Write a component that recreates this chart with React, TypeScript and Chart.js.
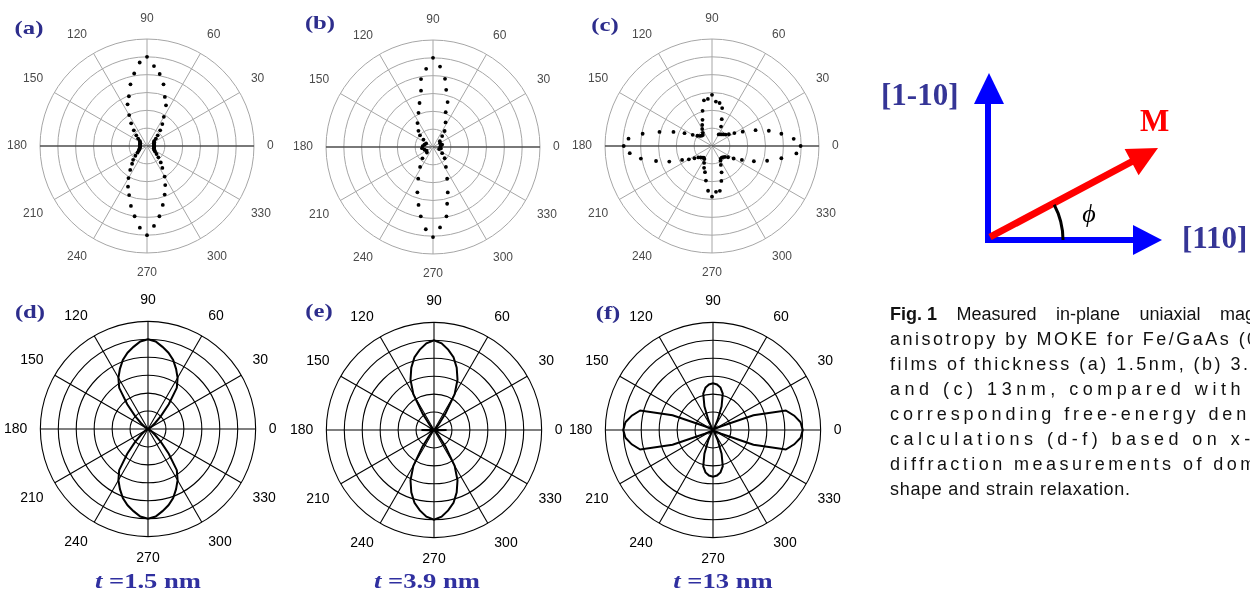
import React, { useEffect, useMemo, useRef } from 'react';
import { Chart, registerables } from 'chart.js';

Chart.register(...registerables);

// ---------- axis / tick data ----------
const DIRECTION_LABELS = ['0', '30', '60', '90', '120', '150', '180', '210', '240', '270', '300', '330'];
const RING_COUNT = 6;

// angles (deg, counter-clockwise from [110]) sampled every 5 degrees
const STEP5_ANGLES = [
  0, 5, 10, 15, 20, 25, 30, 35, 40, 45, 50, 55, 60, 65, 70, 75, 80, 85,
  90, 95, 100, 105, 110, 115, 120, 125, 130, 135, 140, 145, 150, 155, 160, 165, 170, 175,
  180, 185, 190, 195, 200, 205, 210, 215, 220, 225, 230, 235, 240, 245, 250, 255, 260, 265,
  270, 275, 280, 285, 290, 295, 300, 305, 310, 315, 320, 325, 330, 335, 340, 345, 350, 355,
];

// ---------- (a) measured, t = 1.5 nm ----------
const A_RADII = [
  0.4, 0.4, 0.4, 0.42, 0.42, 0.45, 0.45, 0.5, 0.65, 0.85, 1.15, 1.5, 1.89, 2.52, 2.93, 3.58, 4.1, 4.5,
  5.0, 4.7, 4.13, 3.58, 2.97, 2.58, 2.0, 1.55, 1.15, 0.85, 0.65, 0.5, 0.45, 0.42, 0.4, 0.4, 0.4, 0.4,
  0.4, 0.4, 0.4, 0.42, 0.45, 0.48, 0.55, 0.65, 0.85, 1.1, 1.3, 1.64, 2.08, 2.52, 2.93, 3.48, 4.0, 4.6,
  5.0, 4.5, 4.0, 3.42, 2.9, 2.42, 1.98, 1.5, 1.2, 0.9, 0.7, 0.55, 0.48, 0.45, 0.42, 0.4, 0.4, 0.4,
];

// ---------- (b) measured, t = 3.9 nm ----------
const B_ANGLES = [
  90, 95, 100, 102, 107, 113, 123, 132, 138, 142, 153, 165, 175, 186, 198, 210, 222, 227, 237, 245, 251, 256, 260, 265,
  270, 275, 281, 284, 288, 294, 303, 316, 326, 342, 350, 5, 15, 28, 40, 50, 54, 63, 70, 72, 77, 80, 85,
];
const B_RADII = [
  5.0, 4.4, 3.87, 3.23, 2.58, 2.08, 1.6, 1.22, 0.98, 0.68, 0.43, 0.5, 0.58, 0.62, 0.5, 0.42, 0.46, 0.87, 1.33, 1.96, 2.69, 3.35, 3.95, 4.63,
  5.05, 4.53, 3.96, 3.28, 2.68, 1.95, 1.33, 0.91, 0.62, 0.36, 0.45, 0.42, 0.53, 0.45, 0.5, 0.8, 1.11, 1.55, 2.08, 2.65, 3.29, 3.88, 4.53,
];

// ---------- (c) measured, t = 13 nm ----------
const C_RADII = [
  4.97, 4.6, 3.95, 3.3, 2.6, 1.9, 1.45, 1.15, 1.0, 0.92, 0.85, 0.8, 0.75, 1.2, 1.6, 2.2, 2.45, 2.5,
  2.87, 2.65, 2.6, 2.04, 1.56, 1.3, 1.1, 0.9, 0.8, 0.82, 0.88, 1.0, 1.25, 1.7, 2.3, 3.05, 3.95, 4.7,
  4.95, 4.63, 4.05, 3.25, 2.55, 1.85, 1.5, 1.2, 1.0, 0.9, 0.85, 0.8, 0.85, 1.05, 1.3, 1.52, 1.97, 2.52,
  2.84, 2.58, 2.55, 2.03, 1.57, 1.17, 0.95, 0.86, 0.85, 0.88, 0.95, 1.1, 1.4, 1.85, 2.5, 3.2, 3.95, 4.75,
];

// ---------- (d) calculated, t = 1.5 nm ----------
const D_RADII = [
  0, 0, 0, 0, 0.02, 0.05, 0.1, 0.25, 0.5, 1.0, 1.8, 2.8, 3.3, 3.7, 4.1, 4.4, 4.65, 4.9,
  5.0, 4.9, 4.65, 4.4, 4.1, 3.7, 3.3, 2.8, 1.8, 1.0, 0.5, 0.25, 0.1, 0.05, 0.02, 0, 0, 0,
  0, 0, 0, 0, 0.02, 0.05, 0.1, 0.25, 0.5, 1.0, 1.8, 2.8, 3.3, 3.7, 4.1, 4.4, 4.65, 4.9,
  5.0, 4.9, 4.65, 4.4, 4.1, 3.7, 3.3, 2.8, 1.8, 1.0, 0.5, 0.25, 0.1, 0.05, 0.02, 0, 0, 0,
];

// ---------- (e) calculated, t = 3.9 nm ----------
const E_RADII = [
  0.7, 0.15, 0.05, 0.02, 0, 0, 0.02, 0.05, 0.1, 0.15, 0.4, 1.1, 2.3, 3.1, 3.7, 4.2, 4.55, 4.85,
  5.0, 4.85, 4.55, 4.2, 3.7, 3.1, 2.3, 1.1, 0.4, 0.15, 0.1, 0.05, 0.02, 0, 0, 0.02, 0.05, 0.15,
  0.7, 0.15, 0.05, 0.02, 0, 0, 0.02, 0.05, 0.1, 0.15, 0.4, 1.1, 2.3, 3.1, 3.7, 4.2, 4.55, 4.85,
  5.0, 4.85, 4.55, 4.2, 3.7, 3.1, 2.3, 1.1, 0.4, 0.15, 0.1, 0.05, 0.02, 0, 0, 0.02, 0.05, 0.15,
];

// ---------- (f) calculated, t = 13 nm ----------
const F_RADII = [
  5.0, 4.9, 4.6, 4.2, 2.4, 0.5, 0.12, 0.03, 0, 0, 0.02, 0.05, 0.15, 0.6, 1.4, 2.1, 2.4, 2.55,
  2.6, 2.55, 2.4, 2.1, 1.4, 0.6, 0.15, 0.05, 0.02, 0, 0, 0.03, 0.12, 0.5, 2.4, 4.2, 4.6, 4.9,
  5.0, 4.9, 4.6, 4.2, 2.4, 0.5, 0.12, 0.03, 0, 0, 0.02, 0.05, 0.15, 0.6, 1.4, 2.1, 2.4, 2.55,
  2.6, 2.55, 2.4, 2.1, 1.4, 0.6, 0.15, 0.05, 0.02, 0, 0, 0.03, 0.12, 0.5, 2.4, 4.2, 4.6, 4.9,
];

const PANEL_LETTERS = ['(a)', '(b)', '(c)', '(d)', '(e)', '(f)'];
const THICKNESS_LABELS = ['1.5 nm', '3.9 nm', '13 nm'];

const CAPTION_LEAD = 'Fig. 1';
const CAPTION_LINES = [
  ' Measured in-plane uniaxial magnetic',
  'anisotropy by MOKE for Fe/GaAs (001)',
  'films of thickness (a) 1.5nm, (b) 3.9nm',
  'and (c) 13nm, compared with the',
  'corresponding free-energy density',
  'calculations (d-f) based on x-ray',
  'diffraction measurements of domain',
  'shape and strain relaxation.',
];

// ---------- radar helpers (1 degree angular resolution) ----------
const N_DIR = 360;
const RADAR_LABELS = Array.from({ length: N_DIR }, (_, i) => String((N_DIR - i) % N_DIR));

function toRadarData(angles: number[], radii: number[]) {
  const out: (number | null)[] = new Array(N_DIR).fill(null);
  angles.forEach((phi, k) => {
    out[(N_DIR - phi) % N_DIR] = radii[k];
  });
  return out;
}

type PanelSpec = {
  left: number;
  top: number;
  size: number;
  measured: boolean;
  angles: number[];
  radii: number[];
};

const PANELS: PanelSpec[] = [
  { left: 1, top: 6, size: 280, measured: true, angles: STEP5_ANGLES, radii: A_RADII },
  { left: 287, top: 7, size: 280, measured: true, angles: B_ANGLES, radii: B_RADII },
  { left: 566, top: 6, size: 280, measured: true, angles: STEP5_ANGLES, radii: C_RADII },
  { left: -3, top: 286, size: 288, measured: false, angles: STEP5_ANGLES, radii: D_RADII },
  { left: 283, top: 287, size: 288, measured: false, angles: STEP5_ANGLES, radii: E_RADII },
  { left: 562, top: 287, size: 288, measured: false, angles: STEP5_ANGLES, radii: F_RADII },
];

function PolarPanel({ spec }: { spec: PanelSpec }) {
  const ref = useRef<HTMLCanvasElement | null>(null);
  useEffect(() => {
    const canvas = ref.current;
    if (!canvas) return;
    const measured = spec.measured;
    const data = toRadarData(spec.angles, spec.radii);
    const phiOf = (index: number) => (N_DIR - index) % N_DIR;
    const dataset: any = measured
      ? {
          data,
          showLine: false,
          fill: false,
          borderWidth: 0,
          pointRadius: 1.9,
          pointBorderWidth: 0,
          pointBackgroundColor: '#000',
          pointBorderColor: '#000',
        }
      : {
          data,
          spanGaps: true,
          fill: false,
          tension: 0,
          borderColor: '#000',
          borderWidth: 2,
          pointRadius: 0,
        };
    const chart = new Chart(canvas, {
      type: 'radar',
      data: { labels: RADAR_LABELS, datasets: [dataset] },
      options: {
        responsive: false,
        animation: false,
        events: [],
        layout: { padding: 0 },
        plugins: { legend: { display: false }, tooltip: { enabled: false } },
        scales: {
          r: {
            min: 0,
            max: RING_COUNT,
            startAngle: 90,
            ticks: { display: false, stepSize: 1 },
            grid: {
              circular: true,
              color: measured ? '#a6a6a6' : '#000',
              lineWidth: measured ? 1 : 1.1,
            },
            angleLines: {
              display: true,
              color: (c: any) => {
                const phi = phiOf(c.index);
                if (!measured) return '#000';
                return phi % 180 === 0 ? '#4d4d4d' : '#a6a6a6';
              },
              lineWidth: (c: any) => {
                const phi = phiOf(c.index);
                if (phi % 30 !== 0) return 0;
                if (measured) return phi % 180 === 0 ? 1.4 : 1;
                return 1.1;
              },
            },
            pointLabels: {
              display: true,
              padding: 13,
              color: measured ? '#4a4a4a' : '#000',
              font: { family: 'Liberation Sans', size: measured ? 12 : 14 },
              callback: (label: string) => (DIRECTION_LABELS.includes(label) ? label : ''),
            },
          },
        },
      } as any,
    });
    return () => chart.destroy();
  }, [spec]);
  return (
    <canvas
      ref={ref}
      width={spec.size}
      height={spec.size}
      style={{ position: 'absolute', left: spec.left, top: spec.top, width: spec.size, height: spec.size }}
    />
  );
}

const LETTER_POS = [
  [29, 27], [320, 22], [605, 24], [30, 311], [319, 310], [608, 312],
];
const THICK_POS = [
  [148, 581], [427, 581], [723, 581],
];

const CAP_SIZE = 18;
const CAP_WIDTH = 403;

function Caption() {
  const layout = useMemo(() => {
    const ctx = document.createElement('canvas').getContext('2d')!;
    ctx.font = `bold ${CAP_SIZE}px "Liberation Sans"`;
    const boldW = ctx.measureText(CAPTION_LEAD).width;
    ctx.font = `${CAP_SIZE}px "Liberation Sans"`;
    const first = CAPTION_LINES[0];
    const firstW = ctx.measureText(first).width;
    const spaces = first.split(' ').length - 1;
    const wordSpacing = Math.max(0, (CAP_WIDTH - boldW - firstW) / spaces);
    const rest = CAPTION_LINES.slice(1).map((line, k, arr) => {
      const w = ctx.measureText(line).width;
      const last = k === arr.length - 1;
      return { line, ls: last ? 0.7 : Math.max(0, (CAP_WIDTH - w) / line.length) };
    });
    return { wordSpacing, rest };
  }, []);
  return (
    <div
      style={{
        position: 'absolute',
        left: 890,
        top: 302,
        fontFamily: '"Liberation Sans", Arial, sans-serif',
        fontSize: CAP_SIZE,
        lineHeight: '25px',
        color: '#111',
        whiteSpace: 'pre',
      }}
    >
      <div>
        <b>{CAPTION_LEAD}</b>
        <span style={{ wordSpacing: layout.wordSpacing }}>{CAPTION_LINES[0]}</span>
      </div>
      {layout.rest.map((r, k) => (
        <div key={k} style={{ letterSpacing: r.ls }}>
          {r.line}
        </div>
      ))}
    </div>
  );
}

function AxesDiagram() {
  const blue = '#0000ff';
  const red = '#ff0000';
  const labelBlue = '#353596';
  return (
    <svg
      width={1250}
      height={598}
      style={{ position: 'absolute', left: 0, top: 0, pointerEvents: 'none' }}
    >
      <line x1={988} y1={243} x2={988} y2={102} stroke={blue} strokeWidth={6} />
      <polygon points="989,73 974,104 1004,104" fill={blue} />
      <line x1={985} y1={240} x2={1134} y2={240} stroke={blue} strokeWidth={6} />
      <polygon points="1162,240 1133,225 1133,255" fill={blue} />
      <line x1={990} y1={237} x2={1133} y2={161} stroke={red} strokeWidth={7} />
      <polygon points="1158,148 1124.6,148.9 1138.6,175.3" fill={red} />
      <path d="M 1063 240 A 75 75 0 0 0 1054.2 204.8" stroke="#000" strokeWidth={3} fill="none" />
      <text
        x={1089}
        y={222}
        textAnchor="middle"
        fontFamily="Liberation Serif"
        fontStyle="italic"
        fontSize={26}
        fill="#000"
      >
        ϕ
      </text>
      <text x={1140} y={131} fontFamily="Liberation Serif" fontWeight="bold" fontSize={31} fill={red}>
        M
      </text>
      <text x={881} y={105} fontFamily="Liberation Serif" fontWeight="bold" fontSize={31} fill={labelBlue}>
        [1-10]
      </text>
      <text x={1182} y={248} fontFamily="Liberation Serif" fontWeight="bold" fontSize={31} fill={labelBlue}>
        [110]
      </text>
    </svg>
  );
}

export default function App() {
  return (
    <div
      style={{
        position: 'absolute',
        left: 0,
        top: 0,
        width: 1250,
        height: 598,
        overflow: 'hidden',
        background: '#fff',
      }}
    >
      {PANELS.map((p, k) => (
        <PolarPanel key={k} spec={p} />
      ))}
      {PANEL_LETTERS.map((t, k) => (
        <div
          key={t}
          style={{
            position: 'absolute',
            left: LETTER_POS[k][0],
            top: LETTER_POS[k][1],
            transform: 'translate(-50%, -50%) scaleX(1.3)',
            fontFamily: '"Liberation Serif", serif',
            fontWeight: 'bold',
            fontSize: 19,
            lineHeight: 1,
            color: '#2d2d8c',
            whiteSpace: 'nowrap',
          }}
        >
          {t}
        </div>
      ))}
      {THICKNESS_LABELS.map((t, k) => (
        <div
          key={t}
          style={{
            position: 'absolute',
            left: THICK_POS[k][0],
            top: THICK_POS[k][1],
            transform: 'translate(-50%, -50%) scaleX(1.33)',
            fontFamily: '"Liberation Serif", serif',
            fontWeight: 'bold',
            fontSize: 20,
            lineHeight: 1,
            color: '#3030a0',
            whiteSpace: 'nowrap',
          }}
        >
          <i>t</i>
          {' =' + t}
        </div>
      ))}
      <AxesDiagram />
      <Caption />
    </div>
  );
}
